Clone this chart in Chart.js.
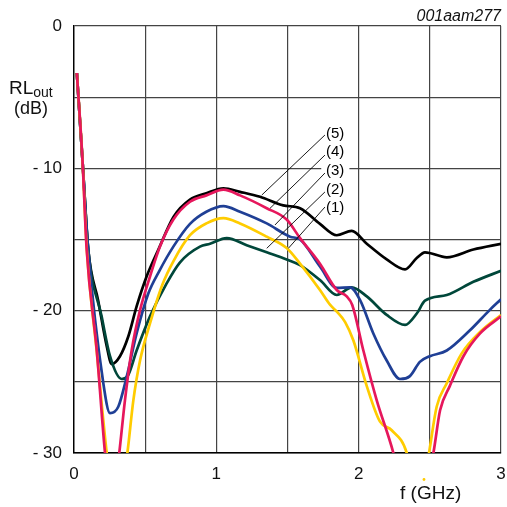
<!DOCTYPE html>
<html>
<head>
<meta charset="utf-8">
<script src="https://cdn.jsdelivr.net/npm/chart.js@4.4.1/dist/chart.umd.min.js"></script>
<style>
  html, body { margin: 0; padding: 0; background: #fff; }
  #wrap { width: 507px; height: 507px; }
</style>
</head>
<body>
<div id="wrap"><canvas id="chart" width="507" height="507"></canvas></div>
<script>
// output return loss vs frequency, curves (1)..(5)
const freq1 = [0.02, 0.06, 0.09, 0.16, 0.23, 0.30, 0.375, 0.417, 0.464, 0.534, 0.62, 0.70, 0.815, 0.93, 1.05, 1.166, 1.354, 1.494, 1.588, 1.728, 1.80, 1.85, 1.905, 1.963, 2.057, 2.15, 2.232, 2.338, 2.42, 2.494, 2.548, 2.619, 2.724, 2.853, 3.0];
const rl1   = [-3.3, -9.5, -15.7, -22.9, -30, -35, -30, -26.3, -23.5, -20.9, -18.2, -16.5, -14.7, -13.87, -13.5, -13.87, -14.8, -15.6, -16.7, -18.55, -19.6, -20.1, -20.8, -22.1, -25.3, -27.8, -28.4, -30, -34, -30, -26.75, -25.1, -23.0, -21.5, -20.3];

const freq2 = [0.02, 0.06, 0.10, 0.194, 0.253, 0.335, 0.382, 0.44, 0.534, 0.65, 0.745, 0.885, 0.956, 1.073, 1.213, 1.354, 1.494, 1.588, 1.728, 1.846, 1.951, 2.057, 2.197, 2.326, 2.408, 2.466, 2.619, 2.806, 3.0];
const rl2   = [-3.3, -9.5, -15.7, -20.4, -23.2, -24.8, -24.5, -22.8, -20.4, -18.1, -16.6, -15.5, -15.3, -14.9, -15.4, -15.9, -16.4, -16.8, -17.85, -18.9, -18.36, -19.0, -20.3, -21.0, -20.2, -19.3, -18.9, -17.97, -17.2];

const freq3 = [0.02, 0.06, 0.10, 0.206, 0.253, 0.311, 0.37, 0.44, 0.522, 0.60, 0.698, 0.815, 0.93, 1.05, 1.166, 1.354, 1.518, 1.588, 1.728, 1.846, 1.94, 2.01, 2.103, 2.197, 2.29, 2.36, 2.43, 2.50, 2.619, 2.78, 2.92, 3.0];
const rl3   = [-3.3, -9.5, -15.7, -25.1, -27.2, -26.75, -24.65, -21.6, -18.8, -17.2, -15.5, -13.9, -13.05, -12.65, -13.05, -13.87, -14.8, -15.0, -16.9, -18.4, -18.36, -19.26, -21.6, -23.5, -24.8, -24.6, -23.6, -23.2, -22.8, -21.4, -19.96, -19.2];

const freq4 = [0.02, 0.06, 0.089, 0.16, 0.218, 0.268, 0.318, 0.358, 0.405, 0.464, 0.534, 0.604, 0.698, 0.815, 0.93, 1.05, 1.166, 1.354, 1.494, 1.588, 1.728, 1.846, 1.916, 1.955, 2.033, 2.127, 2.244, 2.385, 2.525, 2.572, 2.64, 2.736, 2.853, 3.0];
const rl4   = [-3.3, -9.5, -15.7, -22.8, -30, -34, -30, -26.3, -22.8, -19.96, -17.6, -15.5, -13.6, -12.35, -11.9, -11.5, -11.9, -12.8, -13.6, -14.9, -16.7, -18.55, -19.0, -19.6, -22.8, -26.3, -30, -36, -30, -27.0, -25.3, -23.2, -21.6, -20.4];

const freq5 = [0.02, 0.06, 0.10, 0.17, 0.23, 0.265, 0.323, 0.382, 0.44, 0.51, 0.593, 0.70, 0.815, 0.93, 1.05, 1.166, 1.307, 1.47, 1.588, 1.728, 1.846, 1.951, 2.057, 2.197, 2.326, 2.408, 2.466, 2.619, 2.806, 3.0];
const rl5   = [-3.3, -9.5, -15.7, -19.3, -22.5, -23.75, -23.2, -21.8, -19.7, -17.6, -15.7, -13.4, -12.2, -11.75, -11.4, -11.65, -12.0, -12.6, -12.8, -13.9, -14.7, -14.4, -15.3, -16.4, -17.1, -16.3, -15.9, -16.25, -15.7, -15.3];

const curveNames = ['(1)', '(2)', '(3)', '(4)', '(5)'];
const xTicks = [0, 1, 2, 3];
const yTicks = [0, -10, -20, -30];

function pts(xs, ys) {
  return xs.map((x, i) => ({ x: x, y: ys[i] }));
}

// leader lines: label anchor -> point on curve (data units)
const callouts = [
  { name: curveNames[4], label: [1.77, -7.56], from: [1.763, -7.66], to: [1.319, -11.88] },
  { name: curveNames[3], label: [1.77, -8.86], from: [1.763, -9.07], to: [1.377, -12.81] },
  { name: curveNames[2], label: [1.77, -10.19], from: [1.763, -10.33], to: [1.412, -13.98] },
  { name: curveNames[1], label: [1.77, -11.49], from: [1.763, -11.66], to: [1.354, -15.62] },
  { name: curveNames[0], label: [1.77, -12.79], from: [1.763, -12.72], to: [1.506, -15.62] }
];

const extras = {
  id: 'extras',
  afterDatasetsDraw(chart) {
    const ctx = chart.ctx;
    const xs = chart.scales.x, ys = chart.scales.y;
    ctx.save();
    // white box behind the curve labels
    ctx.fillStyle = '#fff';
    const bx0 = xs.getPixelForValue(1.737), bx1 = xs.getPixelForValue(1.935);
    const by0 = ys.getPixelForValue(-7.0), by1 = ys.getPixelForValue(-13.3);
    ctx.fillRect(bx0, by0, bx1 - bx0, by1 - by0);
    ctx.strokeStyle = '#000';
    ctx.lineWidth = 0.9;
    callouts.forEach(c => {
      ctx.beginPath();
      ctx.moveTo(xs.getPixelForValue(c.from[0]), ys.getPixelForValue(c.from[1]));
      ctx.lineTo(xs.getPixelForValue(c.to[0]), ys.getPixelForValue(c.to[1]));
      ctx.stroke();
    });
    ctx.fillStyle = '#000';
    ctx.font = '15px "Liberation Sans", Arial, sans-serif';
    ctx.textAlign = 'left';
    ctx.textBaseline = 'middle';
    callouts.forEach(c => {
      ctx.fillText(c.name, xs.getPixelForValue(c.label[0]), ys.getPixelForValue(c.label[1]));
    });
    ctx.restore();
  },
  afterDraw(chart) {
    const ctx = chart.ctx;
    ctx.save();
    ctx.fillStyle = '#111';
    ctx.textBaseline = 'alphabetic';
    ctx.textAlign = 'left';
    ctx.font = '19px "Liberation Sans", Arial, sans-serif';
    ctx.fillText('RL', 9, 94);
    const w = ctx.measureText('RL').width;
    ctx.font = '14px "Liberation Sans", Arial, sans-serif';
    ctx.fillText('out', 9 + w, 97);
    ctx.font = '18px "Liberation Sans", Arial, sans-serif';
    ctx.fillText('(dB)', 14, 114);
    ctx.font = '19px "Liberation Sans", Arial, sans-serif';
    ctx.fillText('f (GHz)', 400, 499);
    ctx.textAlign = 'right';
    ctx.font = 'italic 16px "Liberation Sans", Arial, sans-serif';
    ctx.fillText('001aam277', 501, 21);
    // stray yellow speck above the G in the original
    ctx.fillStyle = '#ffcc00';
    ctx.beginPath();
    ctx.arc(424, 479.5, 1.4, 0, Math.PI * 2);
    ctx.fill();
    ctx.restore();
  }
};

const line = (data, color) => ({
  data: data,
  borderColor: color,
  borderWidth: 2.7,
  pointRadius: 0,
  fill: false,
  cubicInterpolationMode: 'monotone'
});

new Chart(document.getElementById('chart').getContext('2d'), {
  type: 'line',
  data: {
    datasets: [
      line(pts(freq4, rl4), '#e6175c'),
      line(pts(freq1, rl1), '#ffcc00'),
      line(pts(freq3, rl3), '#1f3f95'),
      line(pts(freq2, rl2), '#00473a'),
      line(pts(freq5, rl5), '#000000')
    ]
  },
  options: {
    responsive: false,
    devicePixelRatio: 1,
    animation: false,
    layout: { padding: { top: 26, right: 6, left: 0, bottom: 0 } },
    plugins: { legend: { display: false }, tooltip: { enabled: false } },
    scales: {
      x: {
        type: 'linear',
        min: 0,
        max: 3,
        afterFit(s) { s.height = 54; s.paddingLeft = 0; s.paddingRight = 0; },
        grid: { color: '#444', lineWidth: 1.2, drawTicks: false },
        border: { color: '#000', width: 1.4 },
        ticks: {
          stepSize: 0.5,
          padding: 11,
          color: '#111',
          font: { family: '"Liberation Sans", Arial, sans-serif', size: 17 },
          callback: v => (xTicks.includes(v) ? String(v) : '')
        }
      },
      y: {
        min: -30,
        max: 0,
        afterFit(s) { s.width = 74; s.paddingTop = 0; s.paddingBottom = 0; },
        grid: { color: '#444', lineWidth: 1.2, drawTicks: false },
        border: { color: '#000', width: 1.4 },
        ticks: {
          stepSize: 5,
          padding: 12,
          color: '#111',
          font: { family: '"Liberation Sans", Arial, sans-serif', size: 17 },
          callback: v => (yTicks.includes(v) ? (v === 0 ? '0' : '- ' + Math.abs(v)) : '')
        }
      }
    }
  },
  plugins: [extras]
});
</script>
</body>
</html>
